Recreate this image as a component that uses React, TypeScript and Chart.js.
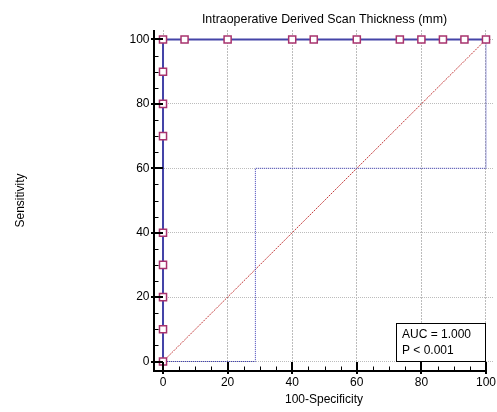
import React, { useEffect, useRef } from "react";
import { Chart, registerables } from "chart.js";

Chart.register(...registerables);

const TITLE = "Intraoperative Derived Scan Thickness (mm)";
const X_TITLE = "100-Specificity";
const Y_TITLE = "Sensitivity";
const MAJOR_TICKS = [0, 20, 40, 60, 80, 100];
const MINOR_TICKS = [5, 10, 15, 25, 30, 35, 45, 50, 55, 65, 70, 75, 85, 90, 95];
const ROC_X = [0, 0, 0, 0, 0, 0, 0, 0, 0, 6.67, 20, 40, 46.67, 60, 73.33, 80, 86.67, 93.33, 100];
const ROC_Y = [0, 10, 20, 30, 40, 70, 80, 90, 100, 100, 100, 100, 100, 100, 100, 100, 100, 100, 100];
const CI_X = [0, 28.6, 28.6, 100, 100];
const CI_Y = [0, 0, 60, 60, 100];
const DIAG_X = [0, 100];
const DIAG_Y = [0, 100];
const AUC_LINES = ["AUC = 1.000", "P < 0.001"];

const FONT = "'Liberation Sans', Arial, Helvetica, sans-serif";
const X_MIN = -2.79;
const X_MAX = 102.48;
const Y_MIN = -2.95;
const Y_MAX = 102.95;

const toPts = (xs: number[], ys: number[]) => xs.map((x, i) => ({ x, y: ys[i] }));

const framePlugin = {
  id: "frame",
  afterDraw(chart: any) {
    const { ctx, chartArea } = chart;
    const xs = chart.scales.x;
    const ys = chart.scales.y;
    const ax = Math.round(chartArea.left);
    const ay = Math.round(chartArea.bottom);
    const line = (x1: number, y1: number, x2: number, y2: number) => {
      ctx.beginPath();
      ctx.moveTo(x1, y1);
      ctx.lineTo(x2, y2);
      ctx.stroke();
    };
    ctx.save();
    ctx.strokeStyle = "#000";
    ctx.setLineDash([]);
    ctx.lineWidth = 2;
    line(ax, chartArea.top, ax, ay + 1);
    line(ax - 1, ay, Math.round(xs.getPixelForValue(100)) + 1, ay);
    for (const v of MAJOR_TICKS) {
      const py = Math.round(ys.getPixelForValue(v));
      line(ax - 3, py, ax + 9, py);
      const px = Math.round(xs.getPixelForValue(v));
      line(px, ay + 3, px, ay - 9);
    }
    ctx.lineWidth = 1;
    for (const v of MINOR_TICKS) {
      const py = Math.round(ys.getPixelForValue(v)) + 0.5;
      line(ax, py, ax + 4.5, py);
      const px = Math.round(xs.getPixelForValue(v)) + 0.5;
      line(px, ay, px, ay - 4.5);
    }
    // title
    ctx.fillStyle = "#000";
    ctx.font = `12.4px ${FONT}`;
    ctx.textAlign = "center";
    ctx.textBaseline = "alphabetic";
    ctx.fillText(TITLE, xs.getPixelForValue(50), 22.5);
    // AUC box
    const right = Math.round(xs.getPixelForValue(100));
    const bottom = Math.round(ys.getPixelForValue(0));
    const left = right - 90;
    const top = bottom - 39;
    ctx.fillStyle = "#fff";
    ctx.fillRect(left, top, 90, 39);
    ctx.strokeStyle = "#000";
    ctx.lineWidth = 1;
    ctx.strokeRect(left + 0.5, top + 0.5, 89, 38);
    ctx.fillStyle = "#000";
    ctx.font = `12px ${FONT}`;
    ctx.textAlign = "left";
    ctx.fillText(AUC_LINES[0], left + 6, top + 14.5);
    ctx.fillText(AUC_LINES[1], left + 6, top + 30.5);
    ctx.restore();
  },
};

export default function App() {
  const ref = useRef<HTMLCanvasElement>(null);
  useEffect(() => {
    if (!ref.current) return;
    Chart.defaults.font.family = FONT;
    const chart = new Chart(ref.current, {
      type: "scatter",
      data: {
        datasets: [
          {
            label: "ROC",
            data: toPts(ROC_X, ROC_Y),
            showLine: true,
            borderColor: "#4444a8",
            borderWidth: 2,
            pointStyle: "rect",
            pointRadius: 5,
            pointBorderWidth: 1.5,
            pointBorderColor: "#a8336e",
            pointBackgroundColor: "#ffffff",
            clip: false,
            order: 0,
          } as any,
          {
            label: "Diagonal",
            data: toPts(DIAG_X, DIAG_Y),
            showLine: true,
            borderColor: "#c43c3c",
            borderWidth: 1,
            borderDash: [2, 1],
            pointRadius: 0,
            order: 2,
          } as any,
          {
            label: "CI",
            data: toPts(CI_X, CI_Y),
            showLine: true,
            borderColor: "#4040b8",
            borderWidth: 1,
            borderDash: [1, 1],
            pointRadius: 0,
            order: 1,
          } as any,
        ],
      },
      options: {
        animation: false,
        responsive: false,
        devicePixelRatio: 1,
        layout: { autoPadding: false, padding: { top: 30, right: 3, bottom: 0, left: 0 } },
        plugins: {
          legend: { display: false },
          tooltip: { enabled: false },
          title: { display: false },
        },
        scales: {
          x: {
            type: "linear",
            min: X_MIN,
            max: X_MAX,
            afterBuildTicks: (s: any) => {
              s.ticks = MAJOR_TICKS.map((v) => ({ value: v }));
            },
            afterFit: (s: any) => {
              s.height = 41;
              s.paddingLeft = 0;
              s.paddingRight = 0;
            },
            grid: { color: "#bcbcbc", lineWidth: 1, drawTicks: false },
            border: { display: false, dash: [2, 1] },
            ticks: { padding: 4, color: "#000", font: { size: 12, family: FONT }, maxRotation: 0, autoSkip: false },
            title: {
              display: true,
              text: X_TITLE,
              color: "#000",
              font: { size: 12, family: FONT },
              padding: { top: 0, bottom: 5 },
            },
          },
          y: {
            type: "linear",
            min: Y_MIN,
            max: Y_MAX,
            afterBuildTicks: (s: any) => {
              s.ticks = MAJOR_TICKS.map((v) => ({ value: v }));
            },
            afterFit: (s: any) => {
              s.width = 154;
              s.paddingTop = 0;
              s.paddingBottom = 0;
            },
            grid: { color: "#bcbcbc", lineWidth: 1, drawTicks: false },
            border: { display: false, dash: [1, 1] },
            ticks: { padding: 4.5, color: "#000", font: { size: 12, family: FONT }, autoSkip: false },
            title: {
              display: true,
              text: Y_TITLE,
              color: "#000",
              font: { size: 12, family: FONT },
              padding: { top: 13.6, bottom: 0 },
            },
          },
        },
      } as any,
      plugins: [framePlugin],
    });
    return () => chart.destroy();
  }, []);
  return (
    <div style={{ position: "fixed", left: 0, top: 0, width: 497, height: 412, background: "#fff" }}>
      <canvas ref={ref} width={497} height={412} style={{ display: "block", width: 497, height: 412 }} />
    </div>
  );
}
